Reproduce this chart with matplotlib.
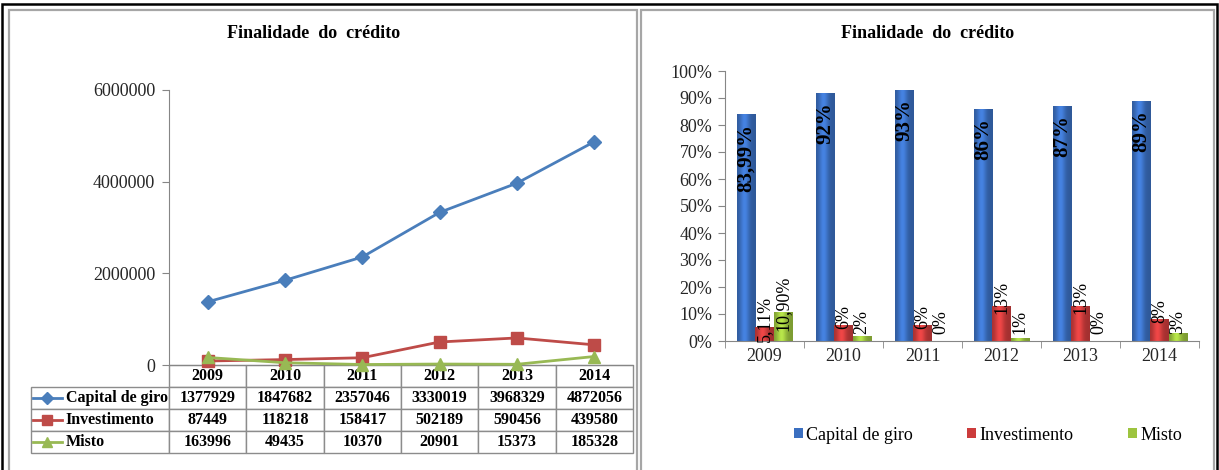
import numpy as np
import matplotlib.pyplot as plt
import matplotlib.colors as mcolors
from matplotlib.patches import Rectangle
from matplotlib.table import Table
from matplotlib.ticker import FuncFormatter

plt.rcParams['font.family'] = ['Liberation Serif', 'DejaVu Serif']

anos = ['2009', '2010', '2011', '2012', '2013', '2014']
series = ['Capital de giro', 'Investimento', 'Misto']

# valores absolutos por finalidade
capital_giro = [1377929, 1847682, 2357046, 3330019, 3968329, 4872056]
investimento = [87449, 118218, 158417, 502189, 590456, 439580]
misto = [163996, 49435, 10370, 20901, 15373, 185328]

# participação percentual por finalidade
pct_capital = [83.99, 92, 93, 86, 87, 89]
pct_invest = [5.11, 6, 6, 13, 13, 8]
pct_misto = [10.90, 2, 0, 1, 0, 3]

azul_linha, verm_linha, verde_linha = '#4a7ebb', '#be4b48', '#98b954'
azul_barra, verm_barra, verde_barra = '#3b6fc0', '#cc3c3c', '#9dc43f'
cinza = '#868686'
serif = 'Liberation Serif'

W, H = 1219, 470
fig = plt.figure(figsize=(W / 100, H / 100), dpi=100)


def fbox(x0, y0, x1, y1):
    # caixa em pixels (origem no topo) -> fração da figura
    return [x0 / W, 1 - y1 / H, (x1 - x0) / W, (y1 - y0) / H]


def rotulo(v):
    if v == int(v):
        return f'{int(v)}%'
    return f'{v:.2f}%'.replace('.', ',')


# molduras
for (x0, y0, x1, y1), cor, lw in [((2, 4, 1217, 480), 'black', 1.8),
                                  ((9, 10, 637, 480), '#a6a6a6', 1.6),
                                  ((641, 10, 1214, 480), '#a6a6a6', 1.6)]:
    b = fbox(x0, y0, x1, y1)
    fig.add_artist(Rectangle((b[0], b[1]), b[2], b[3], transform=fig.transFigure,
                             fill=False, ec=cor, lw=lw))

# ---------------- gráfico de linhas + tabela ----------------
ax1 = fig.add_axes(fbox(169, 90, 633, 365))
x = np.arange(len(anos))
estilos = [(capital_giro, azul_linha, 'D', 7), (investimento, verm_linha, 's', 8),
           (misto, verde_linha, '^', 8)]
for vals, cor, mk, ms in estilos:
    ax1.plot(x, vals, color=cor, marker=mk, ms=ms, lw=2, clip_on=False, zorder=3)

ax1.set_xlim(-0.5, 5.5)
ax1.set_ylim(0, 6000000)
ax1.set_yticks([0, 2000000, 4000000, 6000000])
ax1.yaxis.set_major_formatter(FuncFormatter(lambda v, p: f'{int(v)}'))
ax1.set_xticks([])
for s in ['top', 'right']:
    ax1.spines[s].set_visible(False)
for s in ['left', 'bottom']:
    ax1.spines[s].set_color(cinza)
ax1.tick_params(axis='y', length=5, color=cinza, labelsize=13, pad=5, labelcolor='#262626')

# tabela de valores sob o eixo (a bbox vale só para a grade de dados)
lab_w = (169 - 31) / 464
row_h = 0.08
tbl = Table(ax1, bbox=[0, -4 * row_h, 1, 4 * row_h])
for j, ano in enumerate(anos):
    tbl.add_cell(0, j, width=1 / 6, height=row_h, text=ano, loc='center')
for i, (nome, vals) in enumerate(zip(series, [capital_giro, investimento, misto]), start=1):
    c = tbl.add_cell(i, -1, width=lab_w, height=row_h, text=nome, loc='left')
    c.PAD = 0.25
    for j, v in enumerate(vals):
        tbl.add_cell(i, j, width=1 / 6, height=row_h, text=str(v), loc='center')
tbl.auto_set_font_size(False)
for cell in tbl.get_celld().values():
    cell.set_edgecolor('#8c8c8c')
    cell.set_linewidth(1)
    cell.get_text().set_fontsize(11.5)
    cell.get_text().set_fontweight('bold')
    cell.get_text().set_fontfamily(serif)
ax1.add_table(tbl)

# marcadores de legenda dentro da tabela
for i, (vals, cor, mk, ms) in enumerate(estilos, start=1):
    yc = -(i + 0.5) * row_h
    ax1.plot([-0.294, -0.262, -0.230], [yc] * 3, color=cor, lw=2, marker=mk, ms=ms - 1,
             markevery=[1], transform=ax1.transAxes, clip_on=False)

fig.text(314 / W, 1 - 33 / H, 'Finalidade  do  crédito', ha='center', va='center',
         fontsize=13, fontweight='bold')

# ---------------- gráfico de barras percentual ----------------
ax2 = fig.add_axes(fbox(725, 71, 1199, 341))
w = 0.235
grupos = [(pct_capital, azul_barra, -w), (pct_invest, verm_barra, 0), (pct_misto, verde_barra, w)]
conts = []
t = np.linspace(0, 1, 64)
fator = 0.8 + 0.38 * np.exp(-((t - 0.4) / 0.25) ** 2)
for vals, cor, dx in grupos:
    bc = ax2.bar(x + dx, vals, w, color=cor, zorder=2)
    conts.append(bc)
    base = np.array(mcolors.to_rgb(cor))
    grad = np.clip(base[None, :] * fator[:, None], 0, 1)
    img = np.tile(grad[None, :, :], (2, 1, 1))
    for p in bc.patches:
        if p.get_height() <= 0:
            continue
        x0, y0 = p.get_x(), p.get_y()
        im = ax2.imshow(img, extent=[x0, x0 + p.get_width(), y0, y0 + p.get_height()],
                        aspect='auto', zorder=2.5, interpolation='bilinear')
        im.set_clip_path(p)

ax2.set_xlim(-0.5, 5.5)
ax2.set_ylim(0, 100)
ax2.set_yticks(range(0, 101, 10))
ax2.yaxis.set_major_formatter(FuncFormatter(lambda v, p: f'{int(v)}%'))
ax2.set_xticks(x, anos)
ax2.set_xticks(np.arange(-0.5, 6, 1), minor=True)
for s in ['top', 'right']:
    ax2.spines[s].set_visible(False)
for s in ['left', 'bottom']:
    ax2.spines[s].set_color(cinza)
ax2.tick_params(axis='y', length=5, color=cinza, labelsize=13, pad=4, labelcolor='#262626')
ax2.tick_params(axis='x', which='major', length=0, labelsize=13, pad=5, labelcolor='#262626')
ax2.tick_params(axis='x', which='minor', length=5, color=cinza)

for xi, v in zip(x - w, pct_capital):
    ax2.text(xi, v - 3.5, rotulo(v), rotation=90, ha='center', va='top',
             fontsize=15, fontweight='bold', zorder=4)
for vals, dx in [(pct_invest, 0), (pct_misto, w)]:
    for xi, v in zip(x + dx, vals):
        ax2.text(xi, max(v, 4) + 3, rotulo(v), rotation=90, ha='center', va='center',
                 fontsize=13, zorder=4)

ax2.legend(conts, series, ncol=3, loc='center', bbox_to_anchor=(988 / W, 1 - 435 / H),
           bbox_transform=fig.transFigure, frameon=False,
           prop={'family': serif, 'size': 13},
           handlelength=0.5, handleheight=0.5, handletextpad=0.2, columnspacing=3.0)

fig.text(928 / W, 1 - 33 / H, 'Finalidade  do  crédito', ha='center', va='center',
         fontsize=13, fontweight='bold')

fig.savefig('out.png', dpi=100)
